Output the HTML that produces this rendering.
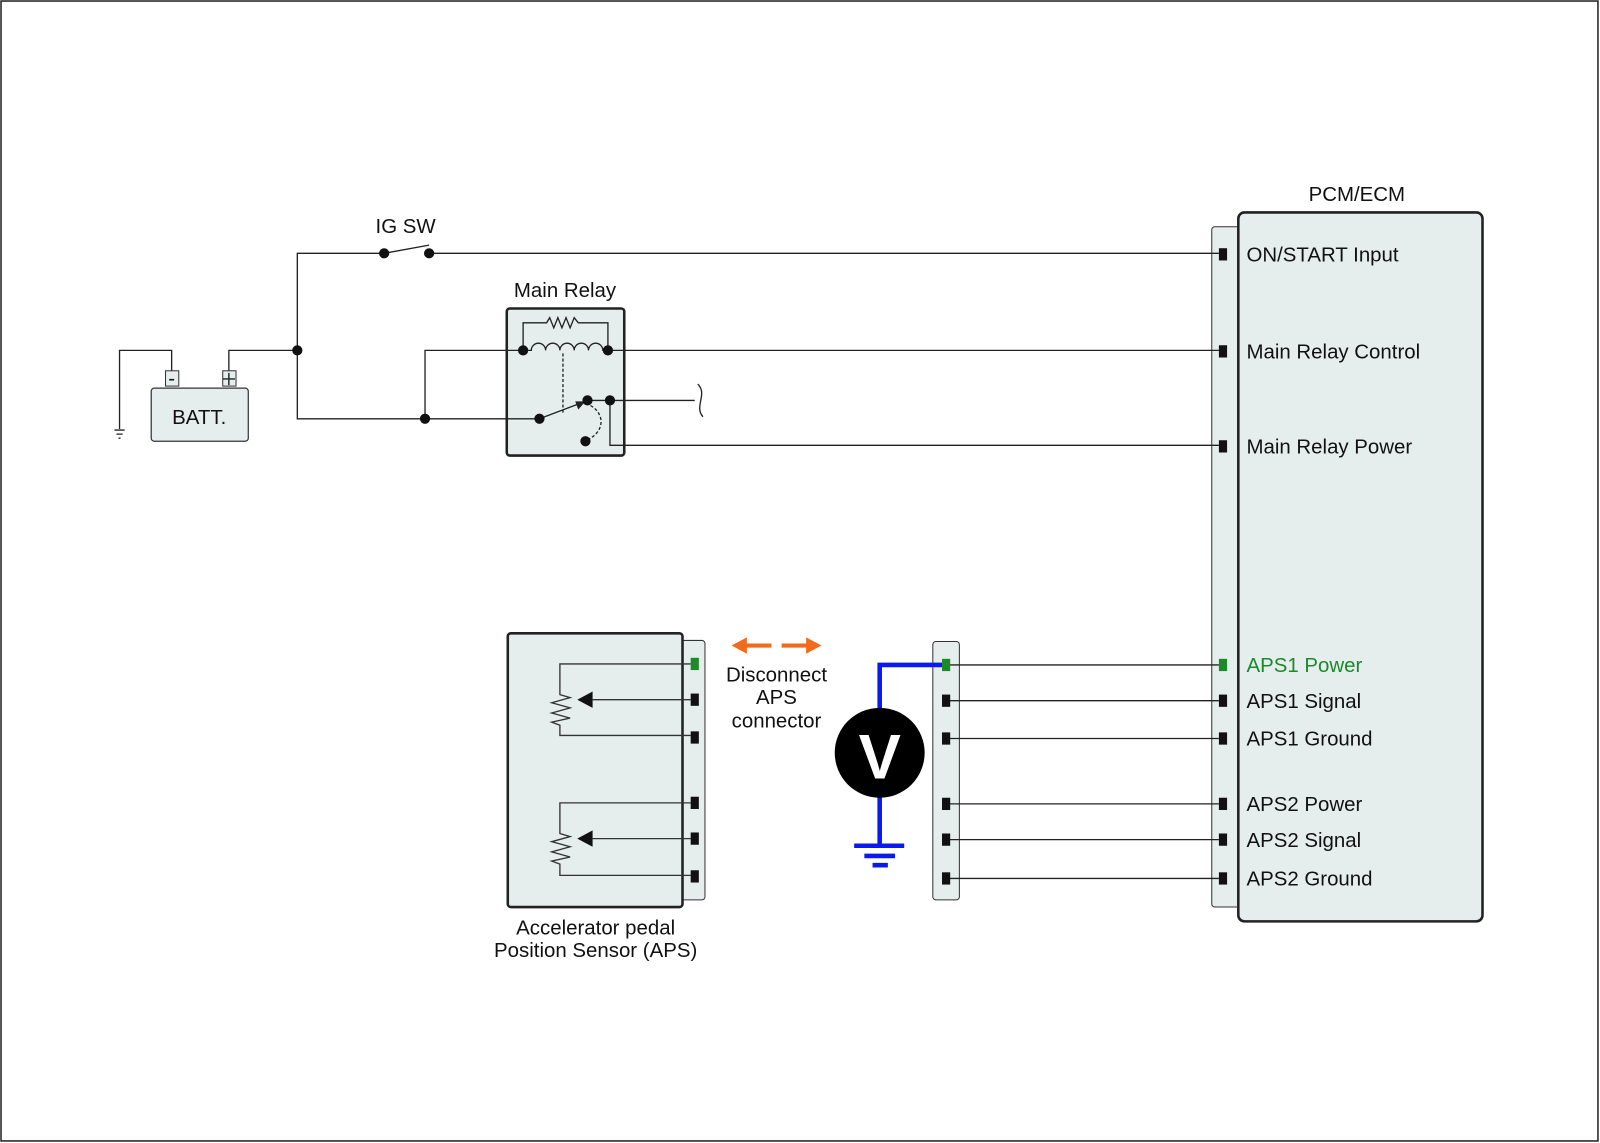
<!DOCTYPE html>
<html><head><style>body{margin:0;background:#fff}svg{display:block}text{font-family:"Liberation Sans",Arial,sans-serif;font-size:20px;fill:#111}</style></head>
<body>
<svg width="1600" height="1143" viewBox="0 0 1566 1119" preserveAspectRatio="none" xmlns="http://www.w3.org/2000/svg">
<rect x="1" y="1" width="1563" height="1116" fill="#fff" stroke="#222" stroke-width="1.5"/>
<!-- boxes first -->
<rect x="496" y="302" width="115" height="144" rx="3" fill="#e6eded" stroke="#222" stroke-width="2.5"/>
<rect x="1186" y="222" width="30" height="666" rx="3" fill="#e6eded" stroke="#333"/>
<rect x="1212" y="208" width="239" height="694" rx="6" fill="#e6eded" stroke="#222" stroke-width="2.5"/>
<rect x="913" y="628" width="26" height="253" rx="3" fill="#e6eded" stroke="#333"/>
<rect x="666" y="627" width="24" height="254" rx="3" fill="#e6eded" stroke="#333"/>
<rect x="497" y="620" width="171" height="268" rx="3" fill="#e6eded" stroke="#222" stroke-width="2.5"/>
<g stroke="#222" stroke-width="1.3" fill="none">
<path d="M168,363 V343 H117 V420"/>
<path d="M112,421 H122 M114,425 H120 M116,429 H118"/>
<path d="M224,363 V343 H291"/>
<path d="M376,248 H291 V410 H528"/>
<path d="M420,248 H1193"/>
<path d="M376,248 L420,240"/>
<path d="M416,410 V343 H512"/>
<path d="M595,343 H1193"/>
<path d="M575,392 H680"/>
<path d="M683,376 C693,386 679,398 688,408"/>
<path d="M597,392 V436 H1193"/>
</g>
<rect x="148" y="380" width="95" height="52" rx="3" fill="#e6eded" stroke="#333" stroke-width="1.2"/>
<text x="195" y="415" text-anchor="middle">BATT.</text>
<rect x="162" y="363" width="13" height="15" fill="#e6eded" stroke="#333"/>
<rect x="218" y="363" width="13" height="15" fill="#e6eded" stroke="#333"/>
<text x="168" y="377" text-anchor="middle" font-size="16">-</text>
<path d="M224,365 V377 M218,371 H230" stroke="#222" stroke-width="1.4"/>
<text x="397" y="228" text-anchor="middle">IG SW</text>
<!-- relay -->
<text x="553" y="291" text-anchor="middle">Main Relay</text>
<g stroke="#222" stroke-width="1.3" fill="none">
<path d="M512,343 V316 H535 L538,311 L542,321 L546,311 L550,321 L554,311 L558,321 L562,311 L566,316 H595 V343"/>
<path d="M512,343 H520 a7,7 0 0 1 14,0 a7,7 0 0 1 14,0 a7,7 0 0 1 14,0 a7,7 0 0 1 14,0 a7,7 0 0 1 14,0 H595"/>
<path d="M551,346 V405" stroke-dasharray="3,2"/>
<path d="M528,410 L570,394"/>
<path d="M578,397 C592,405 592,422 576,430" stroke-dasharray="3,2"/>
</g>
<path d="M573,393 L563,393 L566,401 Z" fill="#222"/>
<g fill="#111">
<circle cx="376" cy="248" r="5"/><circle cx="420" cy="248" r="5"/>
<circle cx="291" cy="343" r="5"/><circle cx="416" cy="410" r="5"/>
<circle cx="512" cy="343" r="5"/><circle cx="595" cy="343" r="5"/>
<circle cx="528" cy="410" r="5"/><circle cx="575" cy="392" r="5"/>
<circle cx="597" cy="392" r="5"/><circle cx="573" cy="432" r="5"/>
</g>
<!-- PCM -->
<text x="1328" y="197" text-anchor="middle">PCM/ECM</text>
<g>
<rect x="1193" y="243" width="8" height="12" fill="#111"/>
<rect x="1193" y="338" width="8" height="12" fill="#111"/>
<rect x="1193" y="431" width="8" height="12" fill="#111"/>
<rect x="1193" y="645" width="8" height="12" fill="#1a8a2a"/>
<rect x="1193" y="680" width="8" height="12" fill="#111"/>
<rect x="1193" y="717" width="8" height="12" fill="#111"/>
<rect x="1193" y="781" width="8" height="12" fill="#111"/>
<rect x="1193" y="816" width="8" height="12" fill="#111"/>
<rect x="1193" y="854" width="8" height="12" fill="#111"/>
</g>
<text x="1220" y="256">ON/START Input</text>
<text x="1220" y="351">Main Relay Control</text>
<text x="1220" y="444">Main Relay Power</text>
<text x="1220" y="658" style="fill:#1a8a2a">APS1 Power</text>
<text x="1220" y="693">APS1 Signal</text>
<text x="1220" y="730">APS1 Ground</text>
<text x="1220" y="794">APS2 Power</text>
<text x="1220" y="829">APS2 Signal</text>
<text x="1220" y="867">APS2 Ground</text>
<!-- middle connector -->
<g stroke="#222" stroke-width="1.3">
<path d="M926,651 H1193 M926,686 H1193 M926,723 H1193 M926,787 H1193 M926,822 H1193 M926,860 H1193"/>
</g>
<!-- voltmeter -->
<g stroke="#0a1aee" stroke-width="4.5" fill="none">
<path d="M922,651 H861 V700 M861,775 V828 M836,828 H885 M846,838 H876 M854,847 H869"/>
</g>
<rect x="922" y="645" width="8" height="12" fill="#1a8a2a"/>
<rect x="922" y="680" width="8" height="12" fill="#111"/>
<rect x="922" y="717" width="8" height="12" fill="#111"/>
<rect x="922" y="781" width="8" height="12" fill="#111"/>
<rect x="922" y="816" width="8" height="12" fill="#111"/>
<rect x="922" y="854" width="8" height="12" fill="#111"/>
<circle cx="861" cy="737" r="44" fill="#000"/>
<text x="861" y="762" text-anchor="middle" style="fill:#fff;font-size:62px;font-weight:bold">V</text>
<!-- orange arrows -->
<g fill="#f26a1b" stroke="#f26a1b">
<path d="M729,632 H755" stroke-width="4"/><path d="M716,632 L731,624 L731,640 Z" stroke="none"/>
<path d="M765,632 H791" stroke-width="4"/><path d="M804,632 L789,624 L789,640 Z" stroke="none"/>
</g>
<text x="760" y="667" text-anchor="middle">Disconnect</text>
<text x="760" y="689" text-anchor="middle">APS</text>
<text x="760" y="712" text-anchor="middle">connector</text>
<!-- APS -->
<g stroke="#333" stroke-width="1.3" fill="none">
<path d="M676,650 H548 V680 L558,683 L540,688 L558,693 L540,698 L558,703 L540,707 L548,710 V720 H676"/>
<path d="M580,685 H676"/>
<path d="M676,786 H548 V816 L558,819 L540,824 L558,829 L540,834 L558,839 L540,843 L548,846 V857 H676"/>
<path d="M580,821 H676"/>
</g>
<path d="M565,685 L580,677 L580,693 Z" fill="#111"/>
<path d="M565,821 L580,813 L580,829 Z" fill="#111"/>
<rect x="676" y="644" width="8" height="12" fill="#1a8a2a"/>
<rect x="676" y="679" width="8" height="12" fill="#111"/>
<rect x="676" y="716" width="8" height="12" fill="#111"/>
<rect x="676" y="780" width="8" height="12" fill="#111"/>
<rect x="676" y="815" width="8" height="12" fill="#111"/>
<rect x="676" y="852" width="8" height="12" fill="#111"/>
<text x="583" y="915" text-anchor="middle">Accelerator pedal</text>
<text x="583" y="937" text-anchor="middle">Position Sensor (APS)</text>
</svg>
</body></html>
